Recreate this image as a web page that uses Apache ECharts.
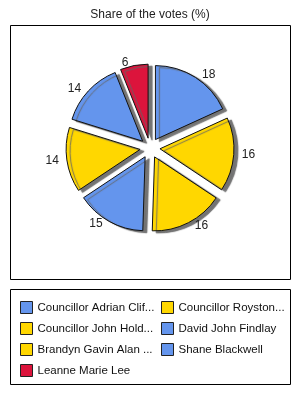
<!DOCTYPE html>
<html><head><meta charset="utf-8">
<script src="https://cdn.jsdelivr.net/npm/echarts@6/dist/echarts.min.js"></script>
<style>html,body{margin:0;padding:0;background:#fff}#c{width:300px;height:400px}</style>
</head><body><div id="c"></div>
<script>
const titleText = 'Share of the votes (%)';
const names = ['Councillor Adrian Clifford', 'Councillor Royston Barrett', 'Councillor John Holdridge', 'David John Findlay', 'Brandyn Gavin Alan Stone', 'Shane Blackwell', 'Leanne Marie Lee'];
const values = [18, 16, 16, 15, 14, 14, 6];
const colors = ['#6495ED', '#FFD700', '#FFD700', '#6495ED', '#FFD700', '#6495ED', '#DC143C'];

const font = 'Liberation Sans';
const chart = echarts.init(document.getElementById('c'), null, {renderer: 'canvas'});
const data = names.map((n, i) => ({name: n, value: values[i], selected: true, itemStyle: {color: colors[i]}}));
function legendCol(left, items, w) {
  return {
    left: left, top: 301, data: items,
    orient: 'vertical', itemWidth: 12, itemHeight: 12, itemGap: 8, padding: 0,
    icon: 'rect',
    itemStyle: {borderColor: '#222', borderWidth: 1, shadowBlur: 0, shadowOffsetX: 0, shadowOffsetY: 0},
    textStyle: {fontFamily: font, fontSize: 11.5, color: '#111', width: w, overflow: 'truncate', ellipsis: '...'},
    selectedMode: false
  };
}
chart.setOption({
  animation: false,
  title: {text: titleText, left: 'center', top: 9, padding: 0, textStyle: {fontFamily: font, fontSize: 12, fontWeight: 'normal', color: '#222'}},
  graphic: [
    {type: 'rect', shape: {x: 10.5, y: 25.5, width: 280, height: 254}, style: {fill: 'none', stroke: '#000', lineWidth: 1}},
    {type: 'rect', shape: {x: 10.5, y: 289.5, width: 280, height: 95}, style: {fill: 'none', stroke: '#000', lineWidth: 1}}
  ],
  legend: [
    legendCol(20, [names[0], names[2], names[4], names[6]], 120),
    legendCol(161, [names[1], names[3], names[5]], 112)
  ],
  series: [{
    type: 'pie', center: [150, 148], radius: [0, 74], startAngle: 90, clockwise: true,
    selectedMode: 'multiple', selectedOffset: 10,
    data: data,
    emphasis: {disabled: true},
    itemStyle: {borderColor: '#111', borderWidth: 1, shadowColor: 'rgba(100,100,100,0.9)', shadowBlur: 1, shadowOffsetX: 4, shadowOffsetY: 2},
    label: {show: true, position: 'outside', formatter: '{c}', fontFamily: font, fontSize: 12, color: '#222'},
    labelLine: {show: false, length: 3, length2: 0}
  }]
});
</script></body></html>
